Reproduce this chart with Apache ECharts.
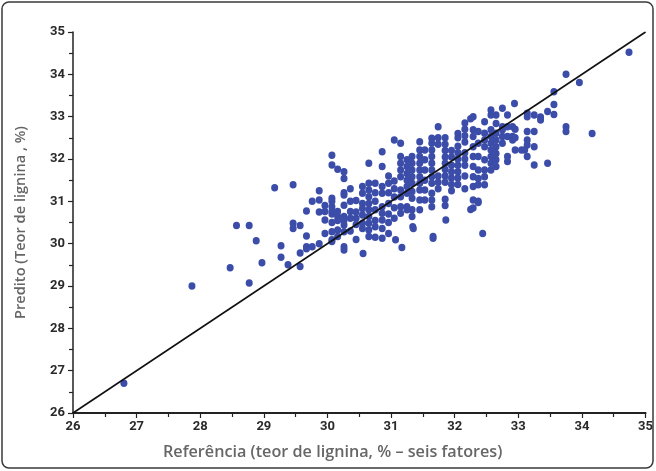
<!DOCTYPE html>
<html>
<head>
<meta charset="utf-8">
<script src="https://cdn.jsdelivr.net/npm/echarts@6/dist/echarts.min.js"></script>
<style>
html,body{margin:0;padding:0;background:#fff;}
#chart{width:656px;height:471px;}
</style>
</head>
<body>
<div id="chart"></div>
<script>
// Axis range
const axisMin = 26;
const axisMax = 35;
const xAxisName = 'Referência (teor de lignina, % – seis fatores)';
const yAxisName = 'Predito (Teor de lignina , %)';
// 1:1 reference line end points (data units)
const idealLine = [[26, 26], [35, 35]];

// Sparse points, low-left region
const lowPoints = [
  [26.8,26.7],[27.87,29.0],[28.47,29.43],[28.57,30.43],[28.77,30.43],[28.77,29.07],
  [28.88,30.07],[28.97,29.55],[29.17,31.32],[29.27,29.95],[29.27,29.68],[29.38,29.5],
  [29.46,31.39],[29.46,30.48],[29.46,30.36],[29.57,30.43],[29.57,29.78],[29.57,29.46],
  [29.67,30.77],[29.67,30.18],[29.67,29.93],[29.67,29.88],[29.76,31.0],[29.76,29.93],
  [29.87,31.25],[29.87,31.03],[29.87,30.75],[29.87,30.0],[29.96,30.9],[29.96,30.76],
  [29.96,30.56],[29.96,30.24]
];

// Cloud, x 30.0 - 30.5
const cloudA = [
  [30.07,32.09],[30.07,31.86],[30.07,31.07],[30.07,31.0],[30.07,30.87],[30.07,30.76],
  [30.07,30.7],[30.07,30.5],[30.07,30.28],[30.07,30.09],[30.07,30.05],
  [30.16,31.76],[30.16,30.76],[30.16,30.64],[30.16,30.55],[30.16,30.32],[30.16,30.17],
  [30.26,31.7],[30.26,31.54],[30.26,31.2],[30.26,31.15],[30.26,30.91],[30.26,30.64],
  [30.26,30.55],[30.26,30.44],[30.26,30.28],[30.26,29.93],[30.26,29.85],
  [30.36,31.3],[30.36,31.0],[30.36,30.76],[30.36,30.6],[30.36,30.3],
  [30.45,31.02],[30.45,30.75],[30.45,30.6],[30.45,30.45],[30.45,30.1]
];

// Cloud, x 30.5 - 31.2
const cloudB = [
  [30.55,31.35],[30.55,31.19],[30.55,30.95],[30.55,30.83],[30.55,30.68],[30.55,30.48],
  [30.55,30.36],[30.56,29.77],
  [30.65,31.9],[30.65,31.43],[30.65,31.27],[30.65,31.11],[30.65,30.95],[30.65,30.8],
  [30.65,30.64],[30.65,30.48],[30.65,30.32],[30.65,30.17],
  [30.75,31.43],[30.75,31.2],[30.75,31.0],[30.75,30.8],[30.75,30.55],[30.75,30.4],[30.75,30.15],
  [30.86,32.17],[30.86,31.82],[30.86,31.35],[30.86,31.19],[30.86,30.87],[30.86,30.72],
  [30.86,30.56],[30.86,30.36],[30.86,30.13],
  [30.96,31.6],[30.96,31.43],[30.96,31.2],[30.96,30.95],[30.96,30.7],[30.96,30.5],[30.96,30.24],
  [31.05,32.45],[31.05,31.48],[31.05,31.3],[31.05,31.1],[31.05,30.85],[31.05,30.6],[31.07,30.09],
  [31.15,32.37],[31.15,32.06],[31.15,31.9],[31.15,31.74],[31.15,31.58],[31.15,31.27],
  [31.15,31.11],[31.15,30.87],[31.15,30.72],[31.17,29.91]
];

// Cloud, x 31.2 - 32.0
const cloudC = [
  [31.25,31.98],[31.25,31.82],[31.25,31.66],[31.25,31.5],[31.25,31.35],[31.25,31.19],
  [31.25,30.87],[31.25,30.8],
  [31.33,32.06],[31.33,31.9],[31.33,31.74],[31.33,31.58],[31.33,31.43],[31.33,31.23],
  [31.33,31.07],[31.33,30.8],[31.33,30.64],[31.34,30.4],[31.35,30.36],
  [31.45,32.41],[31.45,32.21],[31.45,32.06],[31.45,31.9],[31.45,31.74],[31.45,31.58],
  [31.45,31.43],[31.45,31.27],[31.45,31.03],[31.45,30.8],
  [31.53,32.21],[31.53,31.98],[31.53,31.74],[31.53,31.5],[31.53,31.27],[31.53,31.03],
  [31.64,32.49],[31.64,32.37],[31.64,32.21],[31.64,32.06],[31.64,31.9],[31.64,31.74],
  [31.64,31.58],[31.64,31.43],[31.64,31.19],[31.64,31.03],[31.64,30.87],[31.66,30.17],[31.66,30.13],
  [31.74,32.76],[31.74,32.5],[31.74,32.35],[31.74,31.6],[31.74,31.45],[31.74,31.3],
  [31.85,32.5],[31.85,32.35],[31.85,32.2],[31.85,32.05],[31.85,31.9],[31.85,31.75],
  [31.85,31.6],[31.85,31.45],[31.85,31.05],[31.85,30.9],[31.86,30.56],
  [31.95,32.2],[31.95,32.05],[31.95,31.85],[31.95,31.7],[31.95,31.55],[31.95,31.4],[31.95,31.25]
];

// Cloud, x 32.0 - 32.6
const cloudD = [
  [32.05,32.6],[32.05,32.5],[32.05,32.3],[32.05,32.15],[32.05,32.0],[32.05,31.85],
  [32.05,31.7],[32.05,31.55],[32.05,31.4],
  [32.16,32.85],[32.16,32.7],[32.16,32.55],[32.16,32.4],[32.16,32.15],[32.16,32.0],
  [32.16,31.85],[32.16,31.6],[32.16,31.3],
  [32.25,32.95],[32.25,30.81],
  [32.29,33.0],[32.29,32.69],[32.29,32.53],[32.29,32.29],[32.29,32.06],[32.29,31.82],
  [32.29,31.58],[32.29,31.35],[32.29,31.03],[32.29,30.84],
  [32.37,32.65],[32.37,32.37],[32.37,32.06],[32.37,31.74],[32.37,31.54],[32.37,31.39],
  [32.37,31.0],[32.37,30.97],
  [32.47,32.88],[32.47,32.61],[32.47,32.45],[32.47,32.29],[32.47,31.98],[32.47,31.74],
  [32.47,31.58],[32.47,31.39],[32.44,30.24],
  [32.57,33.16],[32.57,33.04],[32.57,32.69],[32.57,32.53],[32.57,32.37],[32.57,32.21],
  [32.57,32.06],[32.57,31.9],[32.57,31.74]
];

// Upper-right region, x > 32.6
const cloudE = [
  [32.65,33.04],[32.65,32.84],[32.65,32.61],[32.65,32.45],[32.65,32.29],[32.65,32.13],
  [32.65,31.98],[32.65,31.82],
  [32.75,33.2],[32.75,32.76],[32.75,32.69],[32.75,32.53],[32.75,32.37],
  [32.83,33.04],[32.83,32.76],[32.83,32.53],[32.83,32.06],[32.83,31.94],
  [32.91,32.76],[32.91,32.53],[32.91,32.45],[32.94,33.31],
  [32.95,32.7],[32.95,32.5],[32.95,32.21],
  [33.05,32.21],[33.1,32.21],
  [33.14,33.08],[33.14,33.0],[33.14,32.65],[33.14,32.45],[33.14,32.33],[33.14,32.06],
  [33.25,33.04],[33.25,32.65],[33.25,32.29],[33.25,31.86],
  [33.35,32.99],[33.35,32.92],
  [33.46,33.12],[33.46,31.9],
  [33.56,33.59],[33.56,33.29],[33.56,33.05],
  [33.75,34.0],[33.75,32.76],[33.75,32.65],
  [33.96,33.81],[34.16,32.6],[34.74,34.52]
];

const scatterData = [].concat(lowPoints, cloudA, cloudB, cloudC, cloudD, cloudE);

const chart = echarts.init(document.getElementById('chart'));
const labelFont = {color:'#2a2a2a', fontSize:13, fontFamily:'"Liberation Sans Narrow", "Roboto", sans-serif', fontWeight:'bold'};
const nameFont = {color:'#666', fontSize:14.6, fontFamily:'"Open Sans", "Noto Sans", sans-serif', fontWeight:600};

chart.setOption({
  animation:false,
  backgroundColor:'#fff',
  graphic:[{
    type:'rect',
    shape:{x:2,y:2,width:651,height:466,r:7},
    style:{fill:'none', stroke:'#3a3a3a', lineWidth:1.5},
    silent:true, z:-1
  },{
    type:'text',
    left:163, top:444,
    style:{text:xAxisName, fill:'#666', font:'600 16.2px "Open Sans", "Noto Sans", sans-serif'},
    silent:true
  }],
  grid:{left:73, right:5, top:32, bottom:58, containLabel:false},
  xAxis:{
    type:'value', min:axisMin, max:axisMax, interval:1,
    axisLine:{show:true, onZero:false, lineStyle:{color:'#222', width:2}},
    axisTick:{show:true, inside:false, length:5, lineStyle:{color:'#222', width:1.2}},
    minorTick:{show:true, splitNumber:2, length:4, lineStyle:{color:'#222', width:1.2}},
    axisLabel:Object.assign({margin:7}, labelFont),
    splitLine:{show:false}
  },
  yAxis:{
    type:'value', min:axisMin, max:axisMax, interval:1,
    name:yAxisName, nameLocation:'middle', nameGap:45, nameTextStyle:nameFont,
    axisLine:{show:true, onZero:false, lineStyle:{color:'#222', width:1.5}},
    axisTick:{show:true, inside:false, length:5, lineStyle:{color:'#222', width:1.2}},
    minorTick:{show:true, splitNumber:2, length:4, lineStyle:{color:'#222', width:1.2}},
    axisLabel:Object.assign({margin:8}, labelFont),
    splitLine:{show:false}
  },
  series:[
    {
      type:'scatter',
      data:scatterData,
      symbol:'circle',
      symbolSize:[7,7.5],
      itemStyle:{color:'#3b4da8', opacity:1},
      z:2
    },
    {
      type:'line',
      data:idealLine,
      symbol:'none',
      lineStyle:{color:'#111', width:1.6},
      z:3
    }
  ]
});
</script>
</body>
</html>
